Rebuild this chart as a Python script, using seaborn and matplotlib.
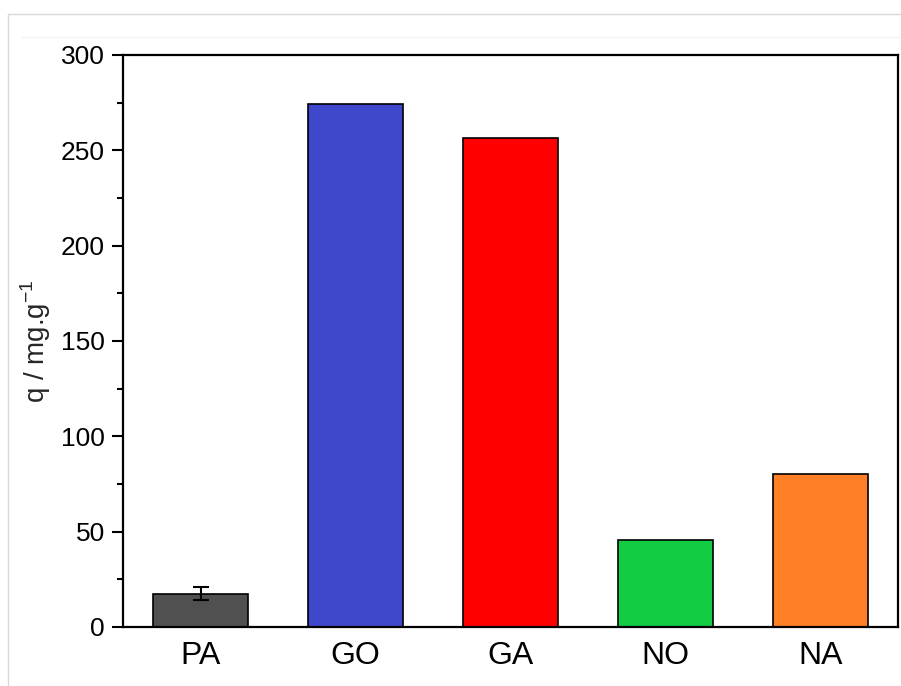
import matplotlib
matplotlib.use("Agg")
import matplotlib.pyplot as plt
from matplotlib.ticker import MultipleLocator
from matplotlib.lines import Line2D
import seaborn as sns
import pandas as pd

# Adsorption capacity per sample
samples = ["PA", "GO", "GA", "NO", "NA"]
capacity = [17.5, 274.5, 256.5, 45.5, 80.0]
capacity_err = [3.5, 0.0, 0.0, 0.0, 0.0]
bar_colors = ["#505050", "#3F48CC", "#FF0000", "#12CC44", "#FF7F27"]
y_ticks = [0, 50, 100, 150, 200, 250, 300]

sns.set_theme(style="ticks")
plt.rcParams["font.family"] = ["Liberation Sans", "DejaVu Sans"]
plt.rcParams["mathtext.fontset"] = "custom"
plt.rcParams["mathtext.rm"] = "Liberation Sans"

df = pd.DataFrame({"sample": samples, "q": capacity})

fig = plt.figure(figsize=(9.01, 6.86), dpi=100)
ax = fig.add_axes([123 / 901, 59 / 686, 775 / 901, 572 / 686])

sns.barplot(data=df, x="sample", y="q", hue="sample", order=samples,
            palette=dict(zip(samples, bar_colors)), width=0.61,
            edgecolor="black", linewidth=1.2, errorbar=None,
            legend=False, saturation=1, ax=ax)

# error bars where a spread was measured
for i, (v, e) in enumerate(zip(capacity, capacity_err)):
    if e > 0:
        ax.errorbar(i, v, yerr=e, fmt="none", ecolor="black",
                    elinewidth=1.5, capsize=5.5, capthick=1.5)

ax.set_xlim(-0.5, 4.5)
ax.set_ylim(0, 300)
ax.set_yticks(y_ticks)
ax.yaxis.set_minor_locator(MultipleLocator(25))
ax.set_xlabel("")
ax.set_ylabel("q / mg.g$^{\\mathregular{-1}}$", fontsize=20, labelpad=6)

ax.tick_params(axis="y", which="major", direction="out", length=8,
               width=1.5, labelsize=19, color="black", pad=5)
ax.tick_params(axis="y", which="minor", direction="out", length=4.5,
               width=1.5, color="black")
ax.tick_params(axis="x", which="both", length=0, labelsize=23, pad=10)
for lbl in ax.get_xticklabels() + ax.get_yticklabels():
    lbl.set_color("black")

for side in ["left", "right", "top", "bottom"]:
    ax.spines[side].set_visible(True)
    ax.spines[side].set_color("black")
    ax.spines[side].set_linewidth(1.6)

# thin page frame around the plot
fig.add_artist(Line2D([8 / 901, 8 / 901], [0, 1 - 14 / 686],
                      transform=fig.transFigure, color="#d9d9d9", lw=1))
fig.add_artist(Line2D([8 / 901, 1], [1 - 14 / 686, 1 - 14 / 686],
                      transform=fig.transFigure, color="#d9d9d9", lw=1))
fig.add_artist(Line2D([22 / 901, 1], [1 - 37 / 686, 1 - 37 / 686],
                      transform=fig.transFigure, color="#f2f2f2", lw=1))

fig.savefig("out.png", dpi=100, facecolor="white")
